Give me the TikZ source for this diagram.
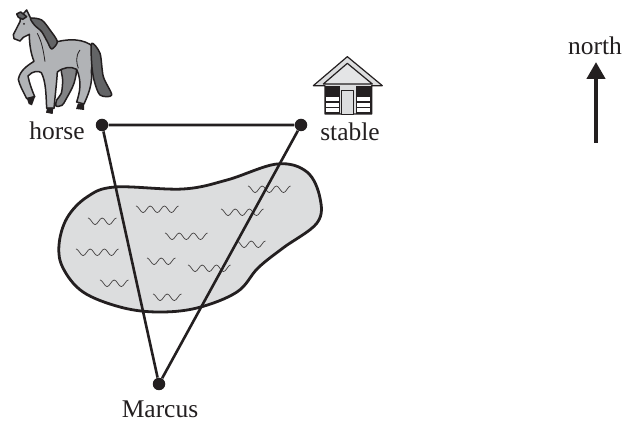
\documentclass[tikz,border=0pt]{standalone}
\usepackage{fontspec}
\setmainfont{Liberation Serif}
\usetikzlibrary{arrows.meta}
\definecolor{inkblack}{HTML}{231F20}
\definecolor{lakegrey}{HTML}{DCDDDE}
\definecolor{horsegrey}{HTML}{B1B3B6}
\definecolor{manegrey}{HTML}{636466}
\tikzset{
  pointdot/.style={circle,fill=inkblack,inner sep=0pt,minimum size=0.25cm},
  placelabel/.style={font=\fontsize{14.5}{17}\selectfont,inner sep=0pt,text=inkblack},
  routeline/.style={line width=0.052cm,draw=inkblack},
  rippleline/.style={line width=0.014cm,draw=inkblack!85},
  sketchline/.style={line width=0.03cm,draw=inkblack,line join=round}
}
\newcommand{\ripple}[3]{\draw [rippleline] plot [smooth,domain=0:#3*360,samples=#3*8+1] ({#1+\x/360*14.2},{#2+3.3-3.3*cos(\x)});}
\begin{document}
\begin{tikzpicture}[x=0.02cm,y=-0.02cm]
  \useasboundingbox (0,0) rectangle (625,421);

  % Drawing lake
  \draw [line width=0.056cm,draw=inkblack,fill=lakegrey] plot [smooth cycle,tension=0.6] coordinates {
    (115,187) (183,189) (227,180) (277,164) (307,172) (320,198) (317,223) (283,248)
    (258,268) (237,292) (197,308) (157,312) (120,307) (83,292) (63,268) (59,245) (67,218) (87,197)};

  % Drawing ripples
  \ripple{136}{206}{3}
  \ripple{165}{233}{3}
  \ripple{221}{209}{3}
  \ripple{248}{186}{3}
  \ripple{76}{249}{3}
  \ripple{188}{265}{3}
  \ripple{88}{218}{2}
  \ripple{147}{258}{2}
  \ripple{100}{280}{2}
  \ripple{153}{294}{2}
  \ripple{237}{241}{2}

  % Drawing horse
  \begin{scope}[scale=1/3]
    % far legs
    \draw [sketchline,fill=manegrey!80] plot [smooth cycle,tension=0.5] coordinates {
      (185,200) (228,200) (222,250) (198,298) (186,316) (168,318) (170,300) (184,280) (188,240)};
    % body and near legs
    \draw [sketchline,fill=horsegrey] (80,30) -- (92,55) -- (125,62) -- (172,125)
      .. controls (210,116) and (250,116) .. (280,140)
      .. controls (287,175) and (270,200) .. (275,225)
      .. controls (275,260) and (264,285) .. (252,312)
      -- (230,306)
      .. controls (240,275) and (246,245) .. (230,208)
      .. controls (212,198) and (190,202) .. (172,216)
      .. controls (170,250) and (165,290) .. (162,325)
      -- (140,325)
      .. controls (138,285) and (138,245) .. (124,218)
      .. controls (116,212) and (98,212) .. (84,228)
      .. controls (88,250) and (96,270) .. (104,290)
      -- (80,296)
      .. controls (70,275) and (58,255) .. (55,238)
      .. controls (60,212) and (80,198) .. (102,184)
      .. controls (92,160) and (88,130) .. (88,103)
      -- (70,112) -- (60,123) -- (42,116) -- (40,104) -- (60,65) -- (62,50) -- cycle;
    % mane
    \draw [sketchline,fill=manegrey] plot [smooth cycle,tension=0.5] coordinates {
      (92,55) (125,60) (150,90) (172,125) (155,147) (142,125) (125,95) (104,76)};
    \draw [sketchline,fill=manegrey] (50,42) -- (62,36) -- (80,50) -- (68,58) -- (55,52) -- cycle;
    % tail
    \draw [sketchline,fill=manegrey] plot [smooth cycle,tension=0.5] coordinates {
      (275,130) (300,160) (310,230) (335,285) (300,285) (282,240) (275,190)};
    % hoofs
    \fill [inkblack] (228,327) -- (234,310) -- (252,312) -- (252,330) -- cycle;
    \fill [inkblack] (138,338) -- (142,322) -- (160,322) -- (158,342) -- cycle;
    \fill [inkblack] (80,294) -- (106,288) -- (96,316) -- (86,312) -- cycle;
    % details
    \draw [sketchline,line width=0.016cm] (112,100) .. controls (125,125) and (130,150) .. (135,185);
    \draw [sketchline,line width=0.016cm] (240,150) .. controls (225,170) and (230,190) .. (235,205);
    \fill [inkblack] (72,72) circle (3);
  \end{scope}

  % Drawing stable
  \begin{scope}[shift={(290,40)},scale=1/3]
    \draw [sketchline,fill=lakegrey,line width=0.024cm] (172,50) -- (277,137) -- (245,137) -- (245,222)
      -- (105,222) -- (105,137) -- (70,137) -- cycle;
    \draw [sketchline,fill=white,fill opacity=0.25,line width=0.024cm] (172,70) -- (247,132) -- (100,132) -- cycle;
    % windows
    \foreach \winx in {105,198}{
      \fill [inkblack] (\winx,137) rectangle ++(44,85);
      \foreach \winy in {172,188,203}
        \fill [white] (\winx+3,\winy) rectangle ++(38,12);
    }
    % door
    \draw [sketchline,fill=lakegrey,line width=0.016cm] (155,152) rectangle (190,222);
  \end{scope}

  % Marking points
  \node (horse) [pointdot] at (102,125) {};
  \node (stable) [pointdot] at (301,125) {};
  \node (marcus) [pointdot] at (159,384) {};

  % Drawing triangle
  \draw [routeline] (horse) -- (stable) -- (marcus) -- (horse);

  % Marking labels
  \node (horselabel) [placelabel] at (57,131) {horse};
  \node (stablelabel) [placelabel] at (350,132) {stable};
  \node (marcuslabel) [placelabel] at (160,409) {Marcus};
  \node (northlabel) [placelabel] at (595,46) {north};

  % Drawing north arrow
  \coordinate (northtail) at (596,143);
  \coordinate (northtip) at (596,62);
  \draw [line width=0.09cm,draw=inkblack,-{Triangle[width=0.36cm,length=0.34cm]}] (northtail) -- (northtip);
\end{tikzpicture}
\end{document}
